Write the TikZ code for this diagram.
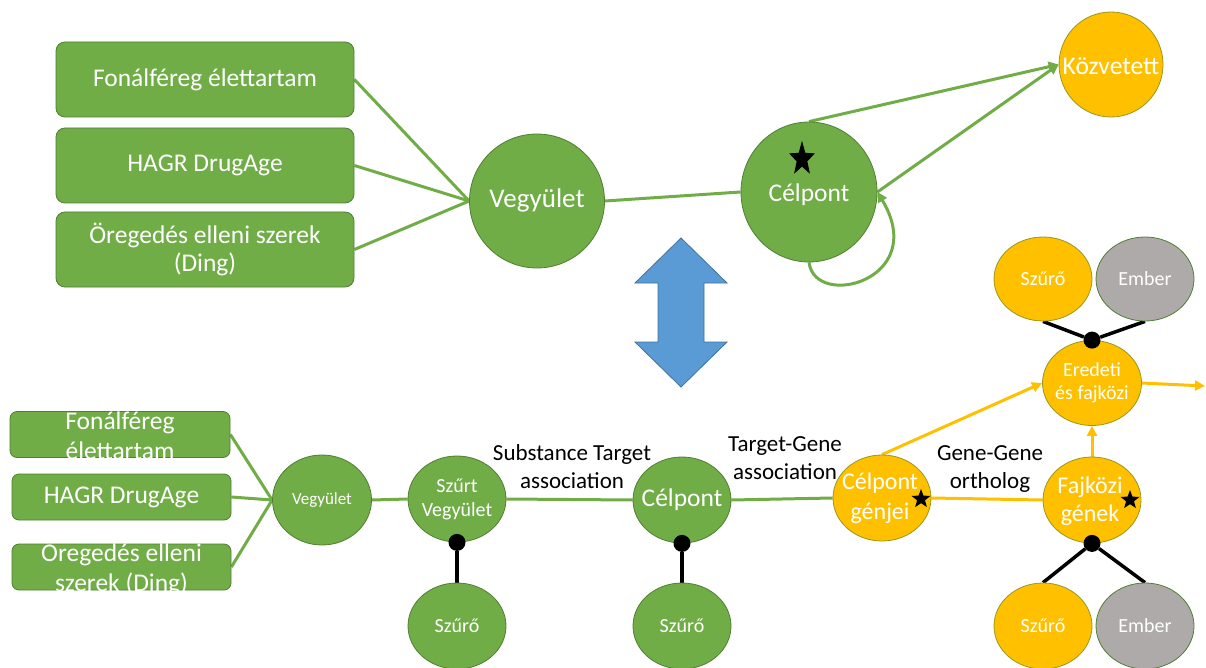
\documentclass[tikz,border=0pt]{standalone}
\usepackage{fontspec}
\setmainfont{Carlito}
\usetikzlibrary{shapes.geometric,arrows.meta}
\definecolor{leaf}{HTML}{70AD47}
\definecolor{leafdark}{HTML}{507E32}
\definecolor{gold}{HTML}{FFC000}
\definecolor{stone}{HTML}{AEAAAA}
\definecolor{sky}{HTML}{5B9BD5}
\definecolor{skydark}{HTML}{41719C}
\pgfdeclarelayer{bg}
\pgfsetlayers{bg,main}
\begin{document}
\begin{tikzpicture}[x=1pt,y=-1pt,
  gbox/.style={rectangle, rounded corners=9pt, fill=leaf, draw=leafdark, line width=0.8pt, inner sep=0pt},
  gfill/.style={ellipse, fill=leaf, draw=leafdark, line width=0.8pt, inner sep=0pt},
  yfill/.style={ellipse, fill=gold, draw=leafdark!60!gold, line width=0.8pt, inner sep=0pt},
  sfill/.style={ellipse, fill=stone, draw=leafdark, line width=0.8pt, inner sep=0pt},
  small/.style={minimum width=98pt, minimum height=86pt},
  wt/.style={text=white, align=center, inner sep=0pt},
  kt/.style={text=black, align=center, inner sep=0pt, font=\fontsize{23}{28}\selectfont},
  fa/.style={font=\fontsize{25.5}{30}\selectfont},
  fb/.style={font=\fontsize{20}{24}\selectfont},
  blackstar/.style={star, star points=5, star point ratio=2.4, fill=black, inner sep=0pt},
  dot/.style={circle, fill=black, inner sep=0pt, minimum size=17pt},
  tip/.style={-{Triangle[length=10pt,width=10pt]}},
  gline/.style={draw=leaf, line width=3pt},
  yline/.style={draw=gold, line width=3pt},
  kline/.style={draw=black, line width=3.5pt}]
\useasboundingbox (0,0) rectangle (1206,668);

% ---------- upper scheme ----------
\node[gbox, minimum width=298pt, minimum height=75pt] (b1) at (205,79.5) {};
\node[wt,fa] (b1t) at (b1) {Fonálféreg élettartam};
\node[gbox, minimum width=298pt, minimum height=75pt] (b2) at (205,165.5) {};
\node[wt,fa] (b2t) at (b2) {HAGR DrugAge};
\node[gbox, minimum width=298pt, minimum height=75pt] (b3) at (205,249.5) {};
\node[wt,font=\fontsize{25.5}{28}\selectfont] (b3t) at (b3) {Öregedés elleni szerek\\(Ding)};

\node[gfill, minimum width=135pt, minimum height=134pt] (v) at (537,201) {};
\node[wt,font=\fontsize{27}{30}\selectfont] (vt) at (537,200) {Vegyület};

\node[gfill, minimum width=136pt, minimum height=140pt] (c) at (809,192) {};
\node[wt,fa] (ct) at (809,195) {Célpont};
\begin{scope}[shift={(802,159)}, yscale=1.35]
  \node[blackstar, transform shape, minimum size=27pt] (cs) at (0,0) {};
\end{scope}

\node[yfill, minimum width=104pt, minimum height=105pt] (k) at (1111,64.5) {};
\node[wt,fa] (kt) at (1111,66) {Közvetett};

% two-headed arrow between the schemes
\filldraw[fill=sky, draw=skydark, line width=0.8pt]
  (635,283) -- (681,238) -- (727,283) -- (704,283) -- (704,342) -- (727,342)
  -- (681,387) -- (635,342) -- (658,342) -- (658,283) -- cycle;

% ---------- lower scheme ----------
\node[gbox, rounded corners=7pt, minimum width=220pt, minimum height=46pt] (l1) at (120,434.5) {};
\node[wt,fa] (l1t) at (120,436) {Fonálféreg\\élettartam};
\node[gbox, rounded corners=7pt, minimum width=219pt, minimum height=46pt] (l2) at (121.5,497) {};
\node[wt,fa] (l2t) at (l2) {HAGR DrugAge};
\node[gbox, rounded corners=7pt, minimum width=219pt, minimum height=46pt] (l3) at (121.5,567) {};
\node[wt,fa] (l3t) at (121.5,568.5) {Öregedés elleni\\szerek (Ding)};

\node[gfill, minimum width=99pt, minimum height=90pt] (vs) at (322,500) {};
\node[wt,font=\fontsize{17}{20}\selectfont] (vst) at (vs) {Vegyület};

\node[gfill, small] (sv) at (457,499) {};
\node[wt,fb] (svt) at (sv) {Szűrt\\Vegyület};
\node[gfill, small] (sf1) at (457,626) {};
\node[wt,fb] (sf1t) at (sf1) {Szűrő};

\node[gfill, small] (cb) at (682,500) {};
\node[wt,fa] (cbt) at (cb) {Célpont};
\node[gfill, small] (sf2) at (682,626) {};
\node[wt,fb] (sf2t) at (sf2) {Szűrő};

\node[yfill, small] (cg) at (882,498) {};
\node[wt,font=\fontsize{24}{30}\selectfont] (cgt) at (880,498) {Célpont\\génjei};
\node[blackstar, minimum size=20pt] (cgs) at (921,499) {};

\node[yfill, small] (fg) at (1092,500) {};
\node[wt,font=\fontsize{24}{28}\selectfont] (fgt) at (1090,501) {Fajközi\\gének};
\node[blackstar, minimum size=20pt] (fgs) at (1130,500) {};

\node[yfill, minimum width=99pt, minimum height=85pt] (er) at (1092,383) {};
\node[wt,font=\fontsize{20}{23}\selectfont] (ert) at (er) {Eredeti\\és fajközi};

\node[yfill, minimum width=98pt, minimum height=84pt] (ys1) at (1043,279) {};
\node[wt,fb] (ys1t) at (ys1) {Szűrő};
\node[sfill, minimum width=98pt, minimum height=84pt] (em1) at (1145,279) {};
\node[wt,fb] (em1t) at (em1) {Ember};

\node[yfill, minimum width=98pt, minimum height=86pt] (ys2) at (1043,626) {};
\node[wt,fb] (ys2t) at (ys2) {Szűrő};
\node[sfill, minimum width=98pt, minimum height=86pt] (em2) at (1145,626) {};
\node[wt,fb] (em2t) at (em2) {Ember};

\node[kt] (la1) at (572,467) {Substance Target\\association};
\node[kt] (la2) at (785,458) {Target-Gene\\association};
\node[kt] (la3) at (990,469) {Gene-Gene\\ortholog};

% filter joints
\node[dot] (d1) at (sv.south) {};
\node[dot] (d2) at (cb.south) {};
\node[dot] (d3) at (er.north) {};
\node[dot] (d4) at (fg.south) {};

\coordinate (out) at (1205,386);

% ---------- connectors ----------
\begin{pgfonlayer}{bg}
  \draw[gline] (b1.east) -- (v.west);
  \draw[gline] (b2.east) -- (v.west);
  \draw[gline] (b3.east) -- (v.west);
  \draw[gline] (v.east) -- (c.west);
  \draw[gline, tip] (c.north) -- (k.west);
  \draw[gline, tip] (c.east) -- (k.west);
  \draw[gline, tip] (c.south) .. controls (815,310) and (930,280) .. (c.east);

  \draw[gline] (l1.east) -- (vs.west);
  \draw[gline] (l2.east) -- (vs.west);
  \draw[gline] (l3.east) -- (vs.west);
  \draw[gline] (vs.east) -- (sv.west);
  \draw[gline] (sv.east) -- (cb.west);
  \draw[gline] (cb.east) -- (cg.west);
  \draw[yline] (cg.east) -- (fg.west);
  \draw[yline, tip] (cg.north) -- (er.west);
  \draw[yline, tip] (fg.north) -- (er.south);
  \draw[yline, tip] (er.east) -- (out);

  \draw[kline] (d1) -- (sf1.north);
  \draw[kline] (d2) -- (sf2.north);
  \draw[kline] (d3) -- (ys1.south);
  \draw[kline] (d3) -- (em1.south);
  \draw[kline] (d4) -- (ys2.north);
  \draw[kline] (d4) -- (em2.north);
\end{pgfonlayer}
\end{tikzpicture}
\end{document}
